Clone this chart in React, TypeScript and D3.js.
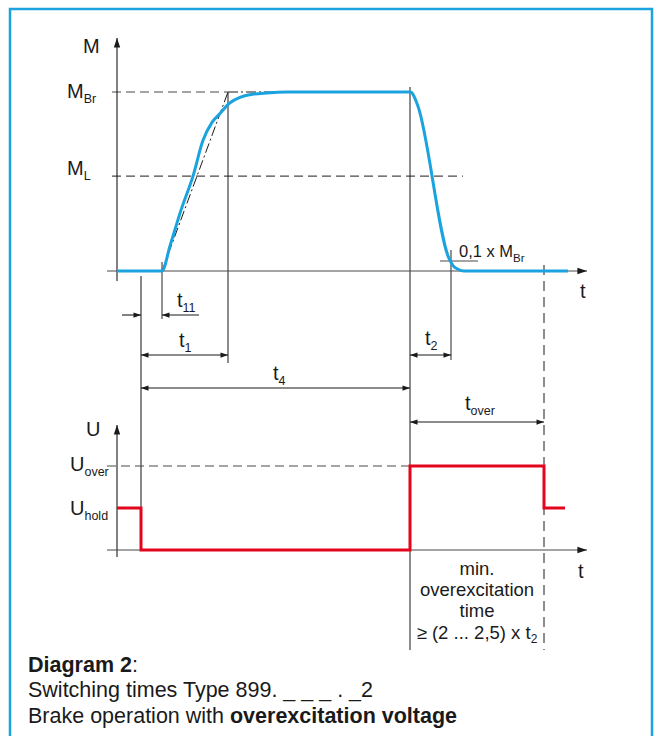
import React from "react";
import * as d3 from "d3";

// ---- data (abstract units: time in 0.1 ms-ish units, torque as fraction of M_Br, voltage as fraction of U_over)
const torqueTime = [0, 4.5, 5.3, 6.4, 7.6, 8.6, 9.5, 10.3, 11.3, 12.3, 13.3, 15, 17, 29.3, 29.5, 29.75, 30.1, 33.2, 33.6, 34.1, 34.7, 45.1];
const torqueValue = [0, 0, 0.14, 0.34, 0.53, 0.73, 0.83, 0.88, 0.94, 0.97, 0.985, 0.995, 1.0, 1.0, 0.995, 0.97, 0.92, 0.07, 0.03, 0.01, 0, 0];
const voltageTime = [0, 2.4, 29.3, 42.7, 44.8];
const voltageValue = [0.5, 0, 1, 0.5, 0.5];
// key instants
const tOff = 2.4, tT11 = 4.5, tT1 = 11.1, tT4 = 29.3, tT2 = 33.4, tOver = 42.7;
// levels
const mBr = 1, mL = 0.53, mTenth = 0.05;
const uOver = 1, uHold = 0.5;
const captionLines = ["Switching times Type 899. _ _ _ . _2"];

const W = 662, H = 736;
const FONT = "'Liberation Sans', Arial, Helvetica, sans-serif";
const INK = "#1a1a1a";
const BLUE = "#1aa3df";
const RED = "#e3051b";
const GRAY = "#4a4a4a";

export default function App() {
  const x = d3.scaleLinear().domain([0, 47]).range([117, 587]);
  const yM = d3.scaleLinear().domain([0, 1]).range([271, 92]);
  const yU = d3.scaleLinear().domain([0, 1]).range([550, 466]);

  const torquePts = torqueTime.map((t, i) => [t, torqueValue[i]] as [number, number]);
  const torqueLine = d3.line<[number, number]>().x(d => x(d[0])).y(d => yM(d[1])).curve(d3.curveMonotoneX);
  const voltPts = voltageTime.map((t, i) => [t, voltageValue[i]] as [number, number]);
  const voltLine = d3.line<[number, number]>().x(d => x(d[0])).y(d => yU(d[1])).curve(d3.curveStepAfter);

  const dim = (x1: number, x2: number, y: number, key: string) => (
    <line key={key} x1={x1} x2={x2} y1={y} y2={y} stroke={INK} strokeWidth={1.1}
      markerStart="url(#ah)" markerEnd="url(#ah)" />
  );

  const lbl = (main: string, sub: string, px: number, py: number, size = 20, subSize = 12.5, key?: string) => (
    <text key={key} x={px} y={py} fontFamily={FONT} fontSize={size} fill={INK}>
      {main}
      <tspan fontSize={subSize} dy={5}>{sub}</tspan>
    </text>
  );

  return (
    <svg width={W} height={H} style={{ position: "absolute", left: 0, top: 0 }}>
      <defs>
        <marker id="ah" viewBox="0 -4 10 8" refX={10} refY={0} markerWidth={8} markerHeight={6}
          markerUnits="userSpaceOnUse" orient="auto-start-reverse">
          <path d="M0,-3.5L10,0L0,3.5Z" fill={INK} />
        </marker>
        <marker id="axh" viewBox="0 -5 12 10" refX={12} refY={0} markerWidth={12} markerHeight={8}
          markerUnits="userSpaceOnUse" orient="auto">
          <path d="M0,-4L12,0L0,4Z" fill={INK} />
        </marker>
      </defs>
      <rect x={0} y={0} width={W} height={H} fill="#fff" />
      <rect x={10} y={9} width={642} height={800} fill="none" stroke={BLUE} strokeWidth={2.5} />

      {/* ---------- Torque diagram ---------- */}
      <line x1={112} x2={x(tT1)} y1={yM(mBr)} y2={yM(mBr)} stroke={GRAY} strokeWidth={1.2} strokeDasharray="9,5" />
      <line x1={x(tT1)} x2={x(tT4)} y1={yM(mBr)} y2={yM(mBr)} stroke={INK} strokeWidth={1} strokeDasharray="10,3,2,3" />
      <line x1={112} x2={463} y1={yM(mL)} y2={yM(mL)} stroke={GRAY} strokeWidth={1.2} strokeDasharray="9,5" />
      <line x1={x(tT11)} y1={yM(0)} x2={x(tT1)} y2={yM(mBr)} stroke={INK} strokeWidth={1} strokeDasharray="10,3,2,3" />
      <line x1={440} x2={478} y1={yM(mTenth) - 1} y2={yM(mTenth) - 1} stroke={GRAY} strokeWidth={1.1} />

      {/* verticals */}
      <line x1={x(tOff)} x2={x(tOff)} y1={276} y2={yU(0)} stroke={GRAY} strokeWidth={1.3} />
      <line x1={x(tT11)} x2={x(tT11)} y1={262} y2={319} stroke={GRAY} strokeWidth={1.2} />
      <line x1={x(tT1)} x2={x(tT1)} y1={yM(mBr)} y2={363} stroke={INK} strokeWidth={1} />
      <line x1={x(tT4)} x2={x(tT4)} y1={87} y2={650} stroke={INK} strokeWidth={1} />
      <line x1={x(tT2)} x2={x(tT2)} y1={250} y2={360} stroke={GRAY} strokeWidth={1.2} />
      <line x1={x(tOver)} x2={x(tOver)} y1={265} y2={650} stroke={INK} strokeWidth={1} strokeDasharray="10,6" />

      {/* axes */}
      <line x1={x(0)} x2={x(0)} y1={281} y2={38} stroke={INK} strokeWidth={1.1} markerEnd="url(#axh)" />
      <line x1={107} x2={x(47)} y1={yM(0)} y2={yM(0)} stroke={GRAY} strokeWidth={1.2} markerEnd="url(#axh)" />

      {/* torque curve */}
      <path d={torqueLine(torquePts) || ""} fill="none" stroke={BLUE} strokeWidth={3} strokeLinejoin="round" />

      {/* torque labels */}
      <text x={83} y={53} fontFamily={FONT} fontSize={20} fill={INK}>M</text>
      {lbl("M", "Br", 67, 98)}
      {lbl("M", "L", 67, 175)}
      <text x={580} y={298} fontFamily={FONT} fontSize={20} fill={INK}>t</text>
      <text x={459} y={257} fontFamily={FONT} fontSize={16.5} fill={INK}>
        0,1 x M<tspan fontSize={11.5} dy={5}>Br</tspan>
      </text>

      {/* dimension arrows */}
      <line x1={122} x2={x(tOff)} y1={315} y2={315} stroke={INK} strokeWidth={1.1} markerEnd="url(#ah)" />
      <line x1={199} x2={x(tT11)} y1={315} y2={315} stroke={INK} strokeWidth={1.1} markerEnd="url(#ah)" />
      {dim(x(tOff), x(tT1), 355, "t1")}
      {dim(x(tT4), x(tT2), 355, "t2")}
      {dim(x(tOff), x(tT4), 388, "t4")}
      {dim(x(tT4), x(tOver), 422, "tover")}
      {lbl("t", "11", 177, 307, 20, 12.5, "l11")}
      {lbl("t", "1", 179, 347, 20, 12.5, "l1")}
      {lbl("t", "4", 273, 380, 20, 12.5, "l4")}
      {lbl("t", "2", 425, 345, 20, 12.5, "l2")}
      {lbl("t", "over", 465, 410, 20, 12.5, "lover")}

      {/* ---------- Voltage diagram ---------- */}
      <line x1={107} x2={x(tT4)} y1={yU(uOver)} y2={yU(uOver)} stroke={GRAY} strokeWidth={1.2} strokeDasharray="9,5" />
      <line x1={x(0)} x2={x(0)} y1={557} y2={425} stroke={INK} strokeWidth={1.1} markerEnd="url(#axh)" />
      <line x1={107} x2={x(47)} y1={yU(0)} y2={yU(0)} stroke={GRAY} strokeWidth={1.2} markerEnd="url(#axh)" />
      <path d={voltLine(voltPts) || ""} fill="none" stroke={RED} strokeWidth={3} />
      <text x={86} y={436} fontFamily={FONT} fontSize={20} fill={INK}>U</text>
      {lbl("U", "over", 70, 471, 20, 12.5, "uo")}
      {lbl("U", "hold", 70, 515, 20, 12.5, "uh")}
      <text x={578} y={578} fontFamily={FONT} fontSize={20} fill={INK}>t</text>
      <g fontFamily={FONT} fontSize={18.5} fill={INK} textAnchor="middle">
        <text x={477} y={575}>min.</text>
        <text x={477} y={596}>overexcitation</text>
        <text x={477} y={617}>time</text>
        <text x={477} y={639}>≥ (2 ... 2,5) x t<tspan fontSize={12} dy={4}>2</tspan></text>
      </g>

      {/* ---------- Caption ---------- */}
      <g fontFamily={FONT} fontSize={21.5} fill={INK}>
        <text x={28} y={672}><tspan fontWeight="bold">Diagram 2</tspan>:</text>
        <text x={28} y={697}>{captionLines[0]}</text>
        <text x={28} y={723}>Brake operation with <tspan fontWeight="bold">overexcitation voltage</tspan></text>
      </g>
    </svg>
  );
}
